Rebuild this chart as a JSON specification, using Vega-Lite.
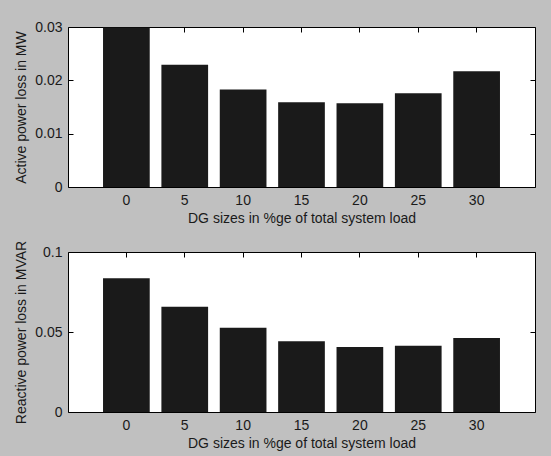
{
  "$schema": "https://vega.github.io/schema/vega-lite/v6.json",
  "background": "#c0c0c0",
  "padding": {"left": 14, "top": 19, "right": 15, "bottom": 5},
  "bounds": "flush",
  "spacing": 65,
  "config": {
    "view": {"fill": "white", "stroke": "black", "strokeWidth": 1},
    "font": "Liberation Sans",
    "axis": {"labelFont": "Liberation Sans", "labelFontSize": 14, "labelColor": "#1a1a1a", "titleFont": "Liberation Sans", "titleFontSize": 14, "titleFontWeight": "normal", "titleColor": "#1a1a1a", "ticks": true, "tickColor": "black", "tickOpacity": 1, "tickWidth": 1, "tickSize": 5, "offset": -5, "domain": false, "grid": false, "labelPadding": 6, "zindex": 1},
    "bar": {"color": "#1a1a1a"}
  },
  "vconcat": [
    {
      "width": 467, "height": 160,
      "data": {"values": [
        {"dg": 0, "loss": 0.0299},
        {"dg": 5, "loss": 0.0229},
        {"dg": 10, "loss": 0.0183},
        {"dg": 15, "loss": 0.0159},
        {"dg": 20, "loss": 0.0157},
        {"dg": 25, "loss": 0.0176},
        {"dg": 30, "loss": 0.0217}
      ]},
      "layer": [
        {"mark": "bar", "encoding": {
          "x": {"field": "dg", "type": "ordinal", "scale": {"paddingInner": 0.2, "paddingOuter": 0.6}, "axis": {"orient": "bottom", "labelAngle": 0, "title": "DG sizes in %ge of total system load", "titlePadding": 4}},
          "y": {"field": "loss", "type": "quantitative", "scale": {"domain": [0, 0.03]}, "axis": {"orient": "left", "values": [0, 0.01, 0.02, 0.03], "format": "~g", "title": "Active power loss in MW", "titlePadding": 6}}
        }},
        {"mark": {"type": "bar", "opacity": 0}, "encoding": {
          "x": {"field": "dg", "type": "ordinal", "axis": {"orient": "top", "labels": false, "title": null}},
          "y": {"field": "loss", "type": "quantitative", "axis": {"orient": "right", "values": [0, 0.01, 0.02, 0.03], "labels": false, "title": null}}
        }}
      ],
      "resolve": {"axis": {"x": "independent", "y": "independent"}}
    },
    {
      "width": 467, "height": 160,
      "data": {"values": [
        {"dg": 0, "loss": 0.0836},
        {"dg": 5, "loss": 0.0658},
        {"dg": 10, "loss": 0.0527},
        {"dg": 15, "loss": 0.0442},
        {"dg": 20, "loss": 0.0406},
        {"dg": 25, "loss": 0.0414},
        {"dg": 30, "loss": 0.0463}
      ]},
      "layer": [
        {"mark": "bar", "encoding": {
          "x": {"field": "dg", "type": "ordinal", "scale": {"paddingInner": 0.2, "paddingOuter": 0.6}, "axis": {"orient": "bottom", "labelAngle": 0, "title": "DG sizes in %ge of total system load", "titlePadding": 4}},
          "y": {"field": "loss", "type": "quantitative", "scale": {"domain": [0, 0.1]}, "axis": {"orient": "left", "values": [0, 0.05, 0.1], "format": "~g", "title": "Reactive power loss in MVAR", "titlePadding": 6}}
        }},
        {"mark": {"type": "bar", "opacity": 0}, "encoding": {
          "x": {"field": "dg", "type": "ordinal", "axis": {"orient": "top", "labels": false, "title": null}},
          "y": {"field": "loss", "type": "quantitative", "axis": {"orient": "right", "values": [0, 0.05, 0.1], "labels": false, "title": null}}
        }}
      ],
      "resolve": {"axis": {"x": "independent", "y": "independent"}}
    }
  ]
}
